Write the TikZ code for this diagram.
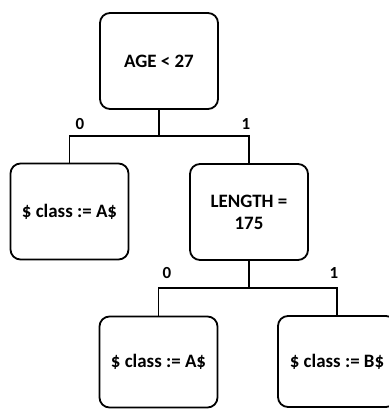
\documentclass[tikz,border=0pt]{standalone}
\usepackage{fontspec}
\setmainfont{Carlito}
\begin{document}
\begin{tikzpicture}[x=1bp,y=-1bp,
  box/.style={draw=black, line width=1.8bp, rounded corners=10bp, minimum width=118bp, inner sep=0pt,
    font=\bfseries\fontsize{19}{22}\selectfont, align=center},
  tall/.style={minimum height=96bp},
  short/.style={minimum height=91bp},
  conn/.style={line width=1.8bp},
  lab/.style={font=\bfseries\fontsize{17}{19}\selectfont, inner sep=0pt}]
\useasboundingbox (0,0) rectangle (389,409);
\node[box,tall] (root) at (159,61) {AGE < 27};
\node[box,tall] (left) at (69.5,211.5) {\$ class := A\$};
\node[box,tall] (len) at (249,212) {LENGTH =\\175};
\node[box,short] (bl) at (158.5,362) {\$ class := A\$};
\node[box,short] (br) at (337,361.5) {\$ class := B\$};
\coordinate (j1) at (159,136);
\coordinate (j2) at (249,288);
\draw[conn] (root.south) -- (j1);
\draw[conn] (left.north) |- (j1) -| (len.north);
\draw[conn] (len.south) -- (j2);
\draw[conn] (bl.north) |- (j2) -| (br.north);
\node[lab] (l0) at (80,124) {0};
\node[lab] (l1) at (246,124) {1};
\node[lab] (m0) at (167,273) {0};
\node[lab] (m1) at (334,273) {1};
\end{tikzpicture}
\end{document}
